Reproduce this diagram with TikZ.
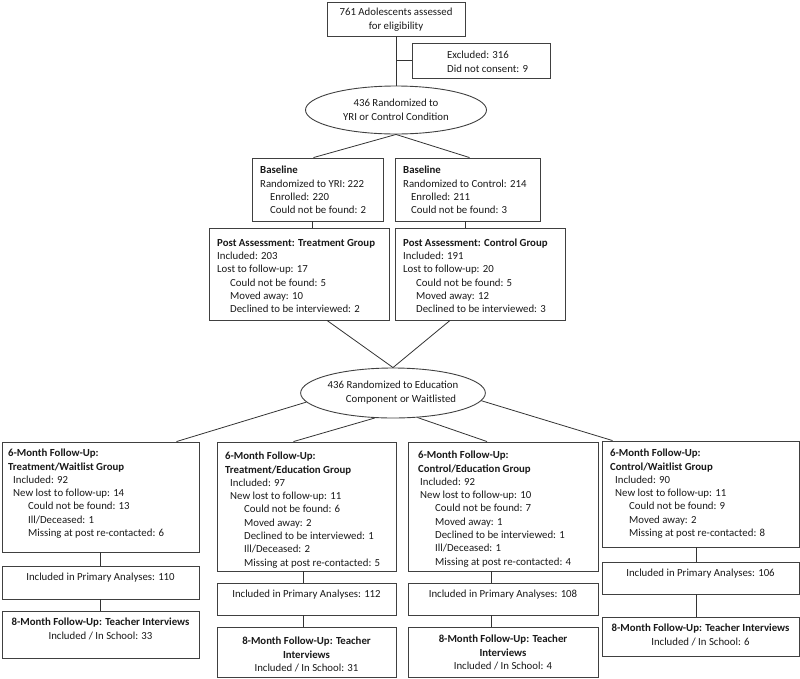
\documentclass[tikz,border=0pt]{standalone}
\usepackage{fontspec}
\setmainfont{Carlito}
\usetikzlibrary{fit,shapes.geometric}
\tikzset{
 boxst/.style={draw=black!75, line width=0.9pt, inner sep=0pt, rectangle},
 txt/.style={font=\fontsize{10.8}{13.3}\selectfont, text=black!90, inner sep=0pt, align=left},
 link/.style={draw=black!80, line width=0.8pt},
 ellst/.style={ellipse, draw=black!75, line width=0.9pt, inner sep=0pt, align=center,
   font=\fontsize{10.8}{13.8}\selectfont, text=black!90}
}
% name, left, top, right, bottom, first-line offset, x pad, text
\newcommand\boxL[8]{%
 \node[boxst, fit={(#2,#3) (#4,#5)}] (#1) {};
 \node[txt, anchor=north west] (#1-t) at (#2+#7,#3+#6-4.5) {\rule{0pt}{8pt}#8};}
% name, left, top, right, bottom, first-line offset, text
\newcommand\boxC[7]{%
 \node[boxst, fit={(#2,#3) (#4,#5)}] (#1) {};
 \node[txt, align=center, anchor=north] (#1-t) at ({(#2+#4)/2},#3+#6-4.5) {\rule{0pt}{8pt}#7};}
\newcommand\ind[1]{\hspace*{#1pt}}
\begin{document}
\begin{tikzpicture}[x=1pt,y=-1pt]
\useasboundingbox (0,0) rectangle (800,678);

\boxC{top}{327}{2}{465}{36}{10}{761 Adolescents assessed\\for eligibility}
\boxL{excl}{412}{43}{550}{78}{12}{35}{Excluded: 316\\Did not consent: 9}
\node[ellst, minimum width=181pt, minimum height=48pt] (ell1) at (396,110) {436 Randomized to\\YRI or Control Condition};

\boxL{base1}{252}{158}{383}{221}{12}{8}{\textbf{Baseline}\\Randomized to YRI: 222\\\ind{10}Enrolled: 220\\\ind{10}Could not be found: 2}
\boxL{base2}{395}{158}{540}{221}{12}{8}{\textbf{Baseline}\\Randomized to Control: 214\\\ind{8}Enrolled: 211\\\ind{8}Could not be found: 3}

\boxL{post1}{209}{228}{389}{320}{14.5}{8}{\textbf{Post Assessment: Treatment Group}\\Included: 203\\Lost to follow-up: 17\\\ind{13}Could not be found: 5\\\ind{13}Moved away: 10\\\ind{13}Declined to be interviewed: 2}
\boxL{post2}{395}{228}{565}{320}{14.5}{8}{\textbf{Post Assessment: Control Group}\\Included: 191\\Lost to follow-up: 20\\\ind{13}Could not be found: 5\\\ind{13}Moved away: 12\\\ind{13}Declined to be interviewed: 3}

\node[ellst, minimum width=181pt, minimum height=50pt] (ell2) at (393,393) {436 Randomized to Education\\\ind{16}Component or Waitlisted};

\boxL{g1}{2}{442}{199}{552}{11}{6}{\textbf{6-Month Follow-Up:}\\\textbf{Treatment/Waitlist Group}\\\ind{5}Included: 92\\\ind{5}New lost to follow-up: 14\\\ind{20}Could not be found: 13\\\ind{20}Ill/Deceased: 1\\\ind{20}Missing at post re-contacted: 6}
\boxC{g1b}{2}{566}{199}{599}{11}{Included in Primary Analyses: 110}
\boxC{g1c}{2}{611}{199}{658}{11}{\textbf{8-Month Follow-Up: Teacher Interviews}\\Included / In School: 33}

\boxL{g2}{217}{442}{396}{571}{14}{8}{\textbf{6-Month Follow-Up:}\\\textbf{Treatment/Education Group}\\\ind{5}Included: 97\\\ind{5}New lost to follow-up: 11\\\ind{19}Could not be found: 6\\\ind{19}Moved away: 2\\\ind{19}Declined to be interviewed: 1\\\ind{19}Ill/Deceased: 2\\\ind{19}Missing at post re-contacted: 5}
\boxC{g2b}{217}{583}{396}{615}{11}{Included in Primary Analyses: 112}
\boxC{g2c}{217}{627}{396}{677}{14}{\textbf{8-Month Follow-Up: Teacher}\\\textbf{Interviews}\\Included / In School: 31}

\boxL{g3}{408}{442}{598}{571}{13}{10}{\textbf{6-Month Follow-Up:}\\\textbf{Control/Education Group}\\\ind{2}Included: 92\\\ind{2}New lost to follow-up: 10\\\ind{17}Could not be found: 7\\\ind{17}Moved away: 1\\\ind{17}Declined to be interviewed: 1\\\ind{17}Ill/Deceased: 1\\\ind{17}Missing at post re-contacted: 4}
\boxC{g3b}{408}{583}{598}{615}{11}{Included in Primary Analyses: 108}
\boxC{g3c}{408}{627}{598}{677}{12}{\textbf{8-Month Follow-Up: Teacher}\\\textbf{Interviews}\\Included / In School: 4}

\boxL{g4}{602}{441}{799}{547}{12}{8}{\textbf{6-Month Follow-Up:}\\\textbf{Control/Waitlist Group}\\\ind{5}Included: 90\\\ind{5}New lost to follow-up: 11\\\ind{19}Could not be found: 9\\\ind{19}Moved away: 2\\\ind{19}Missing at post re-contacted: 8}
\boxC{g4b}{602}{562}{799}{594}{11}{Included in Primary Analyses: 106}
\boxC{g4c}{602}{617}{799}{656}{11}{\textbf{8-Month Follow-Up: Teacher Interviews}\\Included / In School: 6}

% connectors
\draw[link] (top.south) -- (ell1.north);
\draw[link] (excl.west) -- (excl.west -| top.south);
\draw[link] (ell1.south) -- ([xshift=-4pt]base1.north);
\draw[link] (ell1.south) -- ([xshift=2pt]base2.north);
\draw[link] ([xshift=-5pt]base1.south) -- ([xshift=-5pt]base1.south |- post1.north);
\draw[link] ([xshift=-2pt]base2.south) -- ([xshift=-2pt]base2.south |- post2.north);
\draw[link] ([xshift=28pt]post1.south) -- (ell2.north);
\draw[link] ([xshift=-30pt]post2.south) -- (ell2.north);
\draw[link] (ell2.186) -- ([xshift=76pt]g1.north);
\draw[link] (ell2.234) -- ([xshift=-13pt]g2.north);
\draw[link] (ell2.315) -- ([xshift=-16pt]g3.north);
\draw[link] (ell2.355) -- ([xshift=-88pt]g4.north);
\draw[link] (g1.south) -- (g1b.north);
\draw[link] (g1b.south) -- (g1c.north);
\draw[link] ([xshift=-3pt]g2.south) -- ([xshift=-3pt]g2b.north);
\draw[link] ([xshift=-3pt]g2b.south) -- ([xshift=-3pt]g2c.north);
\draw[link] ([xshift=-12pt]g3.south) -- ([xshift=-12pt]g3b.north);
\draw[link] ([xshift=-12pt]g3b.south) -- ([xshift=-12pt]g3c.north);
\draw[link] ([xshift=-4pt]g4.south) -- ([xshift=-4pt]g4b.north);
\draw[link] ([xshift=-4pt]g4b.south) -- ([xshift=-4pt]g4c.north);
\end{tikzpicture}
\end{document}
